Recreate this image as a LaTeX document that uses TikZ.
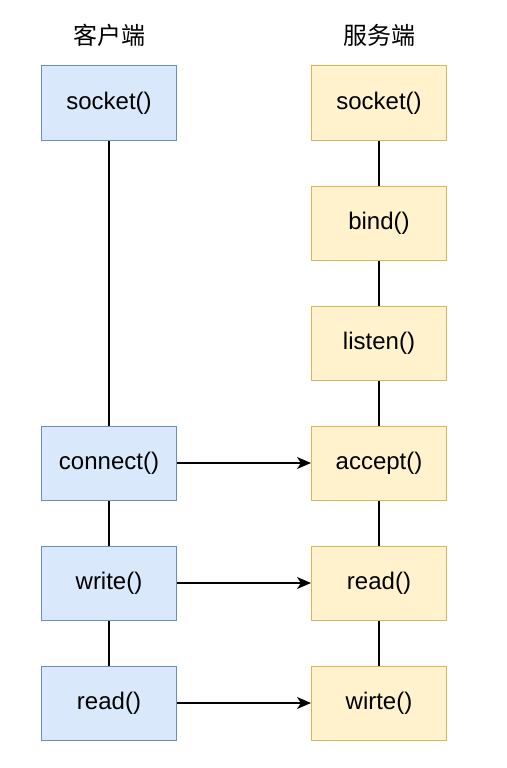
\documentclass[tikz,border=0pt]{standalone}
\usepackage{fontspec}
\setmainfont{Liberation Sans}
\newfontfamily\cjk{Noto Sans CJK SC}
\usetikzlibrary{arrows.meta}
\definecolor{bfill}{HTML}{DAE8FC}
\definecolor{bdraw}{HTML}{6C8EBF}
\definecolor{yfill}{HTML}{FFF2CC}
\definecolor{ydraw}{HTML}{D6B656}
\tikzset{
  box/.style={draw, line width=1pt, minimum width=135pt, minimum height=74pt, inner sep=0pt, font=\fontsize{24}{28}\selectfont},
  cbox/.style={box, fill=bfill, draw=bdraw},
  sbox/.style={box, fill=yfill, draw=ydraw},
  link/.style={line width=1.2pt},
  msg/.style={line width=1.2pt, -{Stealth[length=14pt,width=12pt,inset=4pt]}},
  title/.style={font=\cjk\fontsize{24}{28}\selectfont}
}
\begin{document}
\begin{tikzpicture}[x=1pt,y=-1pt]
\useasboundingbox (0,0) rectangle (506,768);
\node[title] (tc) at (109,35) {客户端};
\node[title] (ts) at (379,35) {服务端};
\node[cbox] (c1) at (109,103) {socket()};
\node[cbox] (c4) at (109,463) {connect()};
\node[cbox] (c5) at (109,583) {write()};
\node[cbox] (c6) at (109,703) {read()};
\node[sbox] (s1) at (379,103) {socket()};
\node[sbox] (s2) at (379,223) {bind()};
\node[sbox] (s3) at (379,343) {listen()};
\node[sbox] (s4) at (379,463) {accept()};
\node[sbox] (s5) at (379,583) {read()};
\node[sbox] (s6) at (379,703) {wirte()};
\draw[link] (c1) -- (c4);
\draw[link] (c4) -- (c5);
\draw[link] (c5) -- (c6);
\draw[link] (s1) -- (s2);
\draw[link] (s2) -- (s3);
\draw[link] (s3) -- (s4);
\draw[link] (s4) -- (s5);
\draw[link] (s5) -- (s6);
\draw[msg] (c4) -- (s4);
\draw[msg] (c5) -- (s5);
\draw[msg] (c6) -- (s6);
\end{tikzpicture}
\end{document}
